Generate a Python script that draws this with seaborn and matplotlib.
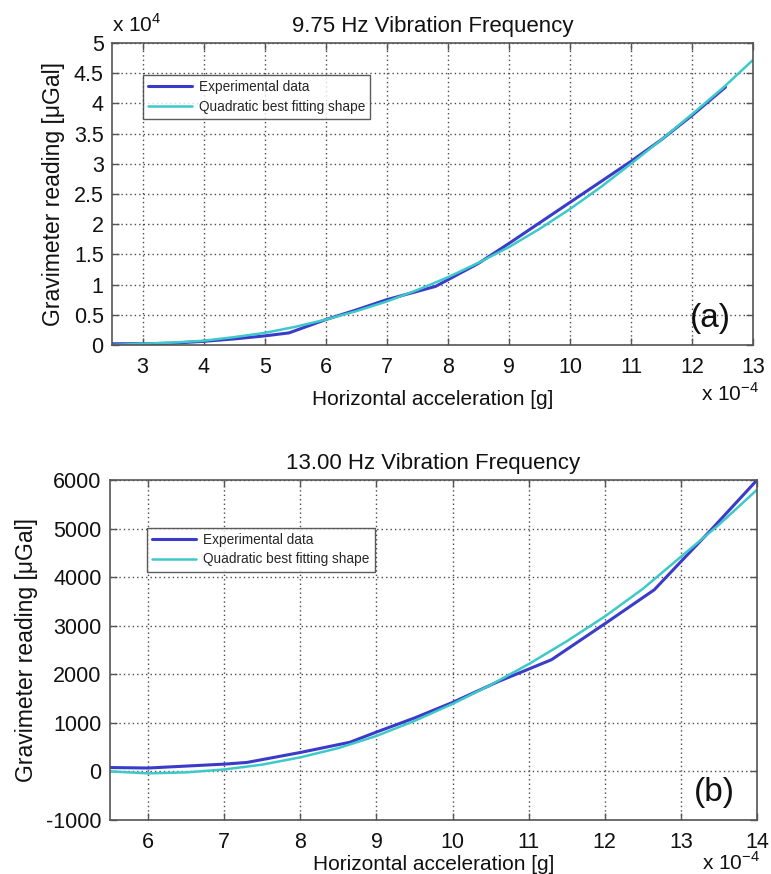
import numpy as np
import pandas as pd
import matplotlib
matplotlib.use("Agg")
import matplotlib.pyplot as plt
import seaborn as sns

# ---- 9.75 Hz panel (x in 1e-4 g, y in 1e4 uGal) ----
a_exp_x = [2.5, 3.0, 3.5, 4.0, 4.5, 5.0, 5.4, 6.0, 6.5, 7.0, 7.8, 8.5, 9.0, 9.5, 10.0, 10.5, 11.0, 11.5, 12.0, 12.55]
a_exp_y = [0.02, 0.02, 0.03, 0.06, 0.10, 0.15, 0.20, 0.42, 0.58, 0.75, 0.97, 1.35, 1.68, 2.02, 2.36, 2.70, 3.04, 3.40, 3.80, 4.27]
a_fit_x = [2.5, 3.0, 3.5, 4.0, 4.5, 5.0, 5.5, 6.0, 6.5, 7.0, 7.5, 8.0, 8.5, 9.0, 9.5, 10.0, 10.5, 11.0, 11.5, 12.0, 12.5, 13.0]
a_fit_y = [0.00, 0.02, 0.04, 0.07, 0.13, 0.20, 0.30, 0.42, 0.56, 0.72, 0.91, 1.12, 1.36, 1.62, 1.92, 2.25, 2.61, 3.00, 3.40, 3.82, 4.25, 4.72]
a_xticks = [3, 4, 5, 6, 7, 8, 9, 10, 11, 12, 13]
a_yticks = [0, 0.5, 1, 1.5, 2, 2.5, 3, 3.5, 4, 4.5, 5]
a_yticklabels = ["0", "0.5", "1", "1.5", "2", "2.5", "3", "3.5", "4", "4.5", "5"]

# ---- 13.00 Hz panel (x in 1e-4 g, y in uGal) ----
b_exp_x = [5.5, 6.0, 6.5, 7.0, 7.3, 8.0, 8.65, 9.0, 9.5, 10.0, 10.6, 11.3, 12.0, 12.65, 13.0, 13.4, 14.0]
b_exp_y = [80, 70, 110, 150, 185, 390, 600, 810, 1100, 1420, 1850, 2300, 3040, 3740, 4320, 4980, 6000]
b_fit_x = [5.5, 6.0, 6.5, 7.0, 7.5, 8.0, 8.5, 9.0, 9.5, 10.0, 10.5, 11.0, 11.5, 12.0, 12.5, 13.0, 13.5, 14.0]
b_fit_y = [0, -40, -20, 40, 140, 290, 480, 730, 1040, 1390, 1780, 2210, 2680, 3190, 3760, 4420, 5080, 5800]
b_xticks = [6, 7, 8, 9, 10, 11, 12, 13, 14]
b_yticks = [-1000, 0, 1000, 2000, 3000, 4000, 5000, 6000]

EXP_COLOR = "#3b3bc9"
FIT_COLOR = "#3ec9c9"

sns.set_theme(style="white")
plt.rcParams["font.family"] = ["Liberation Sans", "DejaVu Sans"]
plt.rcParams["mathtext.fontset"] = "custom"
plt.rcParams["mathtext.rm"] = "Liberation Sans"

fig = plt.figure(figsize=(7.71, 8.74), dpi=100)
ax1 = fig.add_axes([0.1453, 0.6053, 0.8314, 0.3455])
ax2 = fig.add_axes([0.1427, 0.0618, 0.8392, 0.3890])

TXT = "#111111"
LEG_FONT = {"family": ["Liberation Sans Narrow", "Liberation Sans"], "size": 9.8}


def style_axes(ax, xlim, ylim, xticks, yticks, yticklabels, xlabelpad):
    ax.set_xlim(*xlim)
    ax.set_ylim(*ylim)
    ax.set_xticks(xticks)
    ax.set_xticklabels([str(t) for t in xticks])
    ax.set_yticks(yticks)
    ax.set_yticklabels(yticklabels)
    ax.grid(True, color="#4a4a4a", linestyle=(0, (1, 2.2)), linewidth=1.0)
    for sp in ax.spines.values():
        sp.set_visible(True)
        sp.set_color("#555555")
        sp.set_linewidth(1.2)
    ax.tick_params(axis="both", direction="in", length=5, width=1.0,
                   color="#555555", top=True, right=True, bottom=True, left=True,
                   labelsize=15.5, labelcolor=TXT)
    ax.tick_params(axis="x", pad=9)
    ax.tick_params(axis="y", pad=6)
    ax.set_xlabel("Horizontal acceleration [g]", fontsize=15, color=TXT, labelpad=xlabelpad)
    ax.set_ylabel("Gravimeter reading [\u03bcGal]", fontsize=16.5, color=TXT, labelpad=6)


# Panel (a)
df_a_exp = pd.DataFrame({"x": a_exp_x, "y": a_exp_y})
df_a_fit = pd.DataFrame({"x": a_fit_x, "y": a_fit_y})
sns.lineplot(data=df_a_exp, x="x", y="y", ax=ax1, color=EXP_COLOR, linewidth=2.2,
             estimator=None, label="Experimental data")
sns.lineplot(data=df_a_fit, x="x", y="y", ax=ax1, color=FIT_COLOR, linewidth=1.8,
             estimator=None, label="Quadratic best fitting shape")
style_axes(ax1, (2.5, 13), (0, 5), a_xticks, a_yticks, a_yticklabels, xlabelpad=8)
ax1.set_title("9.75 Hz Vibration Frequency", fontsize=16, color=TXT, pad=8)
ax1.text(0.0, 1.025, r"x 10$^{4}$", transform=ax1.transAxes, fontsize=15,
         ha="left", va="bottom", color=TXT)
ax1.text(1.01, -0.16, r"x 10$^{-4}$", transform=ax1.transAxes, fontsize=15,
         ha="right", va="center", color=TXT)
ax1.text(0.965, 0.035, "(a)", transform=ax1.transAxes, fontsize=24,
         ha="right", va="bottom", color=TXT)
leg1 = ax1.legend(loc="upper left", bbox_to_anchor=(0.048, 0.895), prop=LEG_FONT,
                  frameon=True, fancybox=False, edgecolor="#333333", handlelength=3.2,
                  borderpad=0.4, labelspacing=0.4, handletextpad=0.5, borderaxespad=0)
leg1.get_frame().set_linewidth(1.0)

# Panel (b)
df_b_exp = pd.DataFrame({"x": b_exp_x, "y": b_exp_y})
df_b_fit = pd.DataFrame({"x": b_fit_x, "y": b_fit_y})
sns.lineplot(data=df_b_exp, x="x", y="y", ax=ax2, color=EXP_COLOR, linewidth=2.2,
             estimator=None, label="Experimental data")
sns.lineplot(data=df_b_fit, x="x", y="y", ax=ax2, color=FIT_COLOR, linewidth=1.8,
             estimator=None, label="Quadratic best fitting shape")
style_axes(ax2, (5.5, 14), (-1000, 6000), b_xticks, b_yticks,
           [str(t) for t in b_yticks], xlabelpad=1)
ax2.set_title("13.00 Hz Vibration Frequency", fontsize=16, color=TXT, pad=8)
ax2.text(1.005, -0.124, r"x 10$^{-4}$", transform=ax2.transAxes, fontsize=15,
         ha="right", va="center", color=TXT)
ax2.text(0.965, 0.035, "(b)", transform=ax2.transAxes, fontsize=24,
         ha="right", va="bottom", color=TXT)
leg2 = ax2.legend(loc="upper left", bbox_to_anchor=(0.057, 0.86), prop=LEG_FONT,
                  frameon=True, fancybox=False, edgecolor="#333333", handlelength=3.2,
                  borderpad=0.4, labelspacing=0.4, handletextpad=0.5, borderaxespad=0)
leg2.get_frame().set_linewidth(1.0)

fig.savefig("out.png", dpi=100, facecolor="white")
